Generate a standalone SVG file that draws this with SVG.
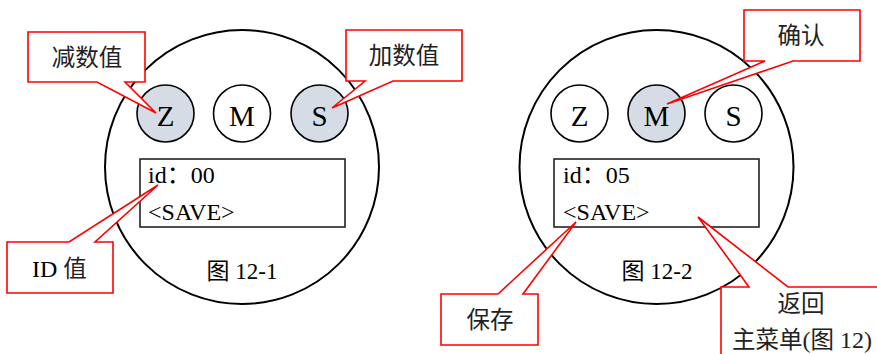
<svg xmlns="http://www.w3.org/2000/svg" width="877" height="354" viewBox="0 0 877 354">
<style>
.face{fill:#fff;stroke:#000;stroke-width:2}
.btn{stroke:#000;stroke-width:1.6}
.on{fill:#d6dce5}
.off{fill:#fff}
.lcd{fill:#fff;stroke:#222;stroke-width:1.6}
.t{font-family:"Liberation Serif","Noto Sans CJK SC",serif;fill:#000}
.bt{font-size:29px;text-anchor:middle}
.lt{font-size:24px}
.cap{font-size:23px;text-anchor:middle}
.co{fill:#fff;stroke:#ff0000;stroke-width:1.6;stroke-linejoin:miter}
.ct{font-family:"Noto Sans CJK SC","Liberation Serif",sans-serif;font-size:23.5px;fill:#222;text-anchor:middle}
</style>
<rect width="877" height="354" fill="#fff"/>
<g id="dial1">
<circle class="face" cx="242" cy="167" r="137"/>
<circle class="btn on" cx="165.5" cy="113.5" r="28.5"/>
<circle class="btn off" cx="242" cy="113.5" r="28.5"/>
<circle class="btn on" cx="319.5" cy="113.5" r="28.5"/>
<text class="t bt" x="165.5" y="126">Z</text>
<text class="t bt" x="242" y="126">M</text>
<text class="t bt" x="319.5" y="126">S</text>
<rect class="lcd" x="140" y="159" width="205" height="68"/>
<text class="t lt" x="148" y="183">id：00</text>
<text class="t lt" x="148" y="220">&lt;SAVE&gt;</text>
<text class="t cap" x="242" y="279">图 12-1</text>
</g>
<g id="dial2">
<circle class="face" cx="656.5" cy="167" r="137"/>
<circle class="btn off" cx="579.5" cy="113.5" r="28.5"/>
<circle class="btn on" cx="656.5" cy="113.5" r="28.5"/>
<circle class="btn off" cx="733.5" cy="113.5" r="28.5"/>
<text class="t bt" x="579.5" y="126">Z</text>
<text class="t bt" x="656.5" y="126">M</text>
<text class="t bt" x="733.5" y="126">S</text>
<rect class="lcd" x="554" y="159" width="205" height="68"/>
<text class="t lt" x="563" y="183">id：05</text>
<text class="t lt" x="563" y="220">&lt;SAVE&gt;</text>
<text class="t cap" x="657" y="279">图 12-2</text>
</g>
<g id="connectors">
<g id="callout-minus">
<path class="co" d="M28 32 H145 V82 H125 L156 113 L97 82 H28 Z"/>
<text class="ct" x="87" y="66">减数值</text>
</g>
<g id="callout-plus">
<path class="co" d="M346 30 H462 V81 H393 L332 108 L365 81 H346 Z"/>
<text class="ct" x="404" y="64">加数值</text>
</g>
<g id="callout-id">
<path class="co" d="M7 242 H69 L158 185 L95 242 H113 V293 H7 Z"/>
<text class="t" x="32" y="277" font-size="24">ID <tspan font-family="Noto Sans CJK SC,sans-serif" font-size="23.5" fill="#222">值</tspan></text>
</g>
<g id="callout-confirm">
<path class="co" d="M744 10 H860 V61 H793 L667 104 L765 61 H744 Z"/>
<text class="ct" x="801" y="44">确认</text>
</g>
<g id="callout-save">
<path class="co" d="M441 294 H498 L576 222 L523 294 H538 V345 H441 Z"/>
<text class="ct" x="490" y="328">保存</text>
</g>
<g id="callout-back">
<path class="co" d="M721 360 V287 H749 L698 217 L788 287 H890 V360 Z"/>
<text class="ct" x="801" y="312">返回</text>
<text class="ct" x="802" y="348">主菜单<tspan font-family="Liberation Serif,serif" font-size="24">(</tspan>图<tspan font-family="Liberation Serif,serif" font-size="24"> 12)</tspan></text>
</g>
</g>
</svg>
